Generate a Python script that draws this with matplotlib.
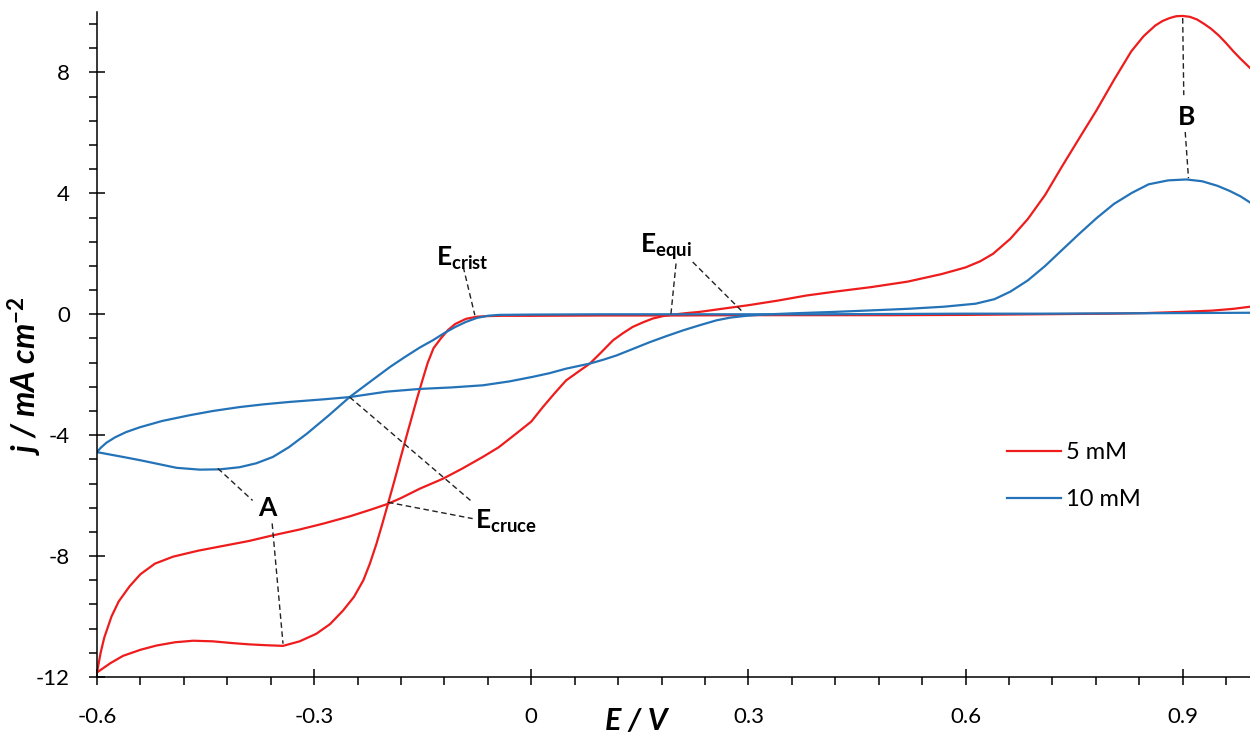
"""
Cyclic voltammograms at 5 mM and 10 mM
"""
import numpy as np
import matplotlib
matplotlib.use("Agg")
import matplotlib.pyplot as plt
from matplotlib.ticker import MultipleLocator, FuncFormatter

plt.rcParams['font.family'] = ['Lato', 'DejaVu Sans']
plt.rcParams['axes.unicode_minus'] = False
plt.rcParams['mathtext.fontset'] = 'custom'
plt.rcParams['mathtext.rm'] = 'Lato'
plt.rcParams['mathtext.bf'] = 'Lato:bold'
plt.rcParams['mathtext.it'] = 'Lato:italic'

# 5 mM, anodic sweep (-0.6 -> 1.0 V)
e_5_fwd = [-0.600, -0.595, -0.590, -0.580, -0.570, -0.555, -0.540, -0.520, -0.495, -0.460,
           -0.425, -0.390, -0.360, -0.320, -0.288, -0.250, -0.220, -0.198, -0.180, -0.154,
           -0.122, -0.095, -0.067, -0.045, -0.021, 0.000, 0.016, 0.032, 0.048, 0.065,
           0.081, 0.097, 0.113, 0.127, 0.140, 0.155, 0.168, 0.182, 0.196, 0.215,
           0.233, 0.260, 0.300, 0.340, 0.380, 0.420, 0.470, 0.520, 0.567, 0.600,
           0.620, 0.638, 0.662, 0.686, 0.710, 0.733, 0.757, 0.781, 0.805, 0.829,
           0.846, 0.862, 0.872, 0.882, 0.891, 0.900, 0.910, 0.920, 0.930, 0.939,
           0.950, 0.960, 0.970, 0.980, 0.993]
j_5_fwd = [-11.85, -11.2, -10.7, -10.0, -9.5, -9.0, -8.6, -8.25, -8.02, -7.82,
           -7.66, -7.5, -7.33, -7.12, -6.93, -6.68, -6.45, -6.27, -6.08, -5.77,
           -5.44, -5.1, -4.72, -4.4, -3.95, -3.55, -3.07, -2.62, -2.19, -1.9,
           -1.63, -1.25, -0.86, -0.62, -0.42, -0.26, -0.14, -0.06, -0.01, 0.04,
           0.08, 0.17, 0.30, 0.45, 0.62, 0.75, 0.90, 1.08, 1.33, 1.55,
           1.75, 2.0, 2.5, 3.15, 3.95, 4.88, 5.82, 6.75, 7.75, 8.7,
           9.2, 9.55, 9.7, 9.8, 9.86, 9.87, 9.84, 9.75, 9.6, 9.45,
           9.22, 8.97, 8.7, 8.45, 8.15]

# 5 mM, cathodic sweep (1.0 -> -0.6 V)
e_5_rev = [0.993, 0.970, 0.940, 0.900, 0.850, 0.800, 0.700, 0.600, 0.500, 0.400,
           0.300, 0.200, 0.100, 0.000, -0.040, -0.060, -0.075, -0.090, -0.105, -0.115,
           -0.125, -0.135, -0.143, -0.150, -0.158, -0.165, -0.172, -0.180, -0.189, -0.198,
           -0.206, -0.214, -0.223, -0.232, -0.245, -0.260, -0.278, -0.297, -0.320, -0.343,
           -0.365, -0.390, -0.412, -0.440, -0.467, -0.492, -0.518, -0.540, -0.564, -0.582,
           -0.600]
j_5_rev = [0.25, 0.18, 0.12, 0.08, 0.04, 0.02, 0.0, -0.02, -0.03, -0.03,
           -0.03, -0.04, -0.04, -0.05, -0.05, -0.06, -0.08, -0.15, -0.32, -0.52,
           -0.8, -1.12, -1.6, -2.15, -2.8, -3.4, -4.0, -4.7, -5.5, -6.27,
           -6.95, -7.6, -8.25, -8.8, -9.35, -9.8, -10.25, -10.57, -10.82, -10.97,
           -10.95, -10.92, -10.88, -10.82, -10.8, -10.85, -10.96, -11.1, -11.3, -11.55,
           -11.85]

# 10 mM, anodic sweep
e_10_fwd = [-0.600, -0.595, -0.587, -0.575, -0.560, -0.541, -0.510, -0.472, -0.440, -0.403,
            -0.370, -0.334, -0.290, -0.251, -0.200, -0.154, -0.110, -0.067, -0.030, 0.002,
            0.025, 0.048, 0.081, 0.100, 0.118, 0.140, 0.164, 0.187, 0.210, 0.233,
            0.256, 0.275, 0.297, 0.320, 0.360, 0.420, 0.471, 0.520, 0.570, 0.614,
            0.640, 0.662, 0.686, 0.710, 0.733, 0.757, 0.781, 0.805, 0.830, 0.853,
            0.880, 0.905, 0.927, 0.948, 0.965, 0.980, 0.993]
j_10_fwd = [-4.56, -4.42, -4.25, -4.07, -3.9, -3.74, -3.53, -3.34, -3.2, -3.07,
            -2.98, -2.9, -2.82, -2.74, -2.56, -2.47, -2.42, -2.35, -2.22, -2.07,
            -1.95, -1.8, -1.63, -1.5, -1.36, -1.15, -0.92, -0.72, -0.53, -0.36,
            -0.2, -0.11, -0.05, -0.01, 0.03, 0.08, 0.13, 0.18, 0.25, 0.35,
            0.5, 0.75, 1.12, 1.6, 2.12, 2.66, 3.18, 3.65, 4.02, 4.3,
            4.43, 4.46, 4.4, 4.25, 4.08, 3.9, 3.7]

# 10 mM, cathodic sweep
e_10_rev = [0.993, 0.900, 0.800, 0.700, 0.600, 0.500, 0.400, 0.300, 0.200, 0.100,
            0.000, -0.044, -0.060, -0.075, -0.090, -0.105, -0.120, -0.136, -0.154, -0.175,
            -0.195, -0.222, -0.251, -0.280, -0.310, -0.335, -0.357, -0.380, -0.403, -0.430,
            -0.458, -0.490, -0.518, -0.540, -0.564, -0.582, -0.600]
j_10_rev = [0.05, 0.04, 0.03, 0.02, 0.02, 0.01, 0.0, 0.0, 0.0, 0.0,
            -0.01, -0.02, -0.05, -0.12, -0.25, -0.42, -0.62, -0.86, -1.1, -1.42,
            -1.74, -2.22, -2.74, -3.35, -3.95, -4.4, -4.72, -4.93, -5.06, -5.13,
            -5.14, -5.08, -4.94, -4.83, -4.72, -4.64, -4.56]

labels = ['5 mM', '10 mM']
colors = ['#EE1C1C', '#2473B8']

W, H = 1250, 736
fig = plt.figure(figsize=(W / 100, H / 100), dpi=100)
ax = fig.add_axes([97 / W, 1 - 677 / H, (W - 97) / W, (677 - 12) / H])

ax.plot(e_5_fwd, j_5_fwd, color=colors[0], lw=1.6, label=labels[0])
ax.plot(e_5_rev, j_5_rev, color=colors[0], lw=1.6)
ax.plot(e_10_fwd, j_10_fwd, color=colors[1], lw=1.6, label=labels[1])
ax.plot(e_10_rev, j_10_rev, color=colors[1], lw=1.6)

ax.set_xlim(-0.6, 0.993)
ax.set_ylim(-12, 10)

for s in ['top', 'right']:
    ax.spines[s].set_visible(False)
for s in ['left', 'bottom']:
    ax.spines[s].set_linewidth(1.1)

ax.xaxis.set_major_locator(MultipleLocator(0.3))
ax.xaxis.set_minor_locator(MultipleLocator(0.06))
ax.yaxis.set_major_locator(MultipleLocator(4))
ax.yaxis.set_minor_locator(MultipleLocator(0.8))
ax.xaxis.set_major_formatter(FuncFormatter(lambda v, p: '0' if abs(v) < 1e-9 else f'{v:.1f}'))
ax.yaxis.set_major_formatter(FuncFormatter(lambda v, p: f'{v:.0f}'))

ax.tick_params(which='major', direction='inout', length=11, width=1.1, labelsize=16, colors='black')
ax.tick_params(which='minor', direction='out', length=6, width=1.1)
ax.tick_params(axis='x', which='major', pad=16)
ax.tick_params(axis='y', which='major', pad=14)

# annotations
dash = dict(color='#222222', lw=1.0, ls=(0, (4, 2.5)))
ax.plot([-0.433, -0.385], [-5.10, -6.16], **dash)
ax.plot([-0.358, -0.343], [-6.92, -10.9], **dash)
ax.text(-0.364, -6.66, 'A', fontsize=19, fontweight='bold', ha='center', va='baseline')

ax.plot([0.900, 0.9015], [9.8, 7.25], **dash)
ax.plot([0.9035, 0.908], [6.03, 4.5], **dash)
ax.text(0.905, 6.26, 'B', fontsize=19, fontweight='bold', ha='center', va='baseline')

ax.plot([-0.094, -0.078], [1.57, -0.03], **dash)
ax.text(-0.131, 1.62, r'$\mathbf{E_{crist}}$', fontsize=19, ha='left', va='baseline')

ax.plot([0.200, 0.193], [1.68, 0.02], **dash)
ax.plot([0.223, 0.292], [1.73, 0.08], **dash)
ax.text(0.150, 2.05, r'$\mathbf{E_{equi}}$', fontsize=19, ha='left', va='baseline')

ax.plot([-0.251, -0.081], [-2.74, -6.22], **dash)
ax.plot([-0.198, -0.081], [-6.22, -6.76], **dash)
ax.text(-0.078, -7.09, r'$\mathbf{E_{cruce}}$', fontsize=19, ha='left', va='baseline')

ax.legend(loc='upper left', bbox_to_anchor=(1007 / W, 1 - 442 / H), bbox_transform=fig.transFigure,
          frameon=False, fontsize=17, handlelength=2.3, handletextpad=0.2,
          labelspacing=1.1, borderpad=0, borderaxespad=0)

fig.text(636 / W, 1 - 721 / H, 'E / V', fontsize=22, fontweight='bold', style='italic',
         ha='center', va='center')
fig.text(25 / W, 1 - 376 / H, r'j / mA cm$^{\mathbf{-2}}$', fontsize=23, fontweight='bold',
         style='italic', rotation=90, ha='center', va='center')

fig.savefig('out.png', dpi=100)
